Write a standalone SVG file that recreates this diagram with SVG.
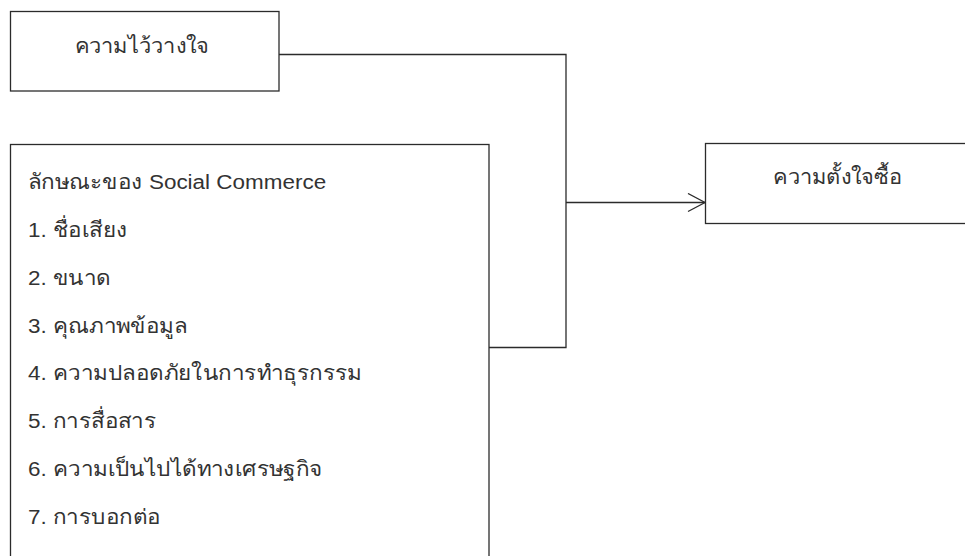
<svg xmlns="http://www.w3.org/2000/svg" width="965" height="556" viewBox="0 0 965 556">
  <style>
    .box { fill: #ffffff; stroke: #2b2b2b; stroke-width: 1.3; }
    .wire { fill: none; stroke: #2b2b2b; stroke-width: 1.3; }
    .lbl { font-family: "Liberation Sans", "Noto Sans", "DejaVu Sans", sans-serif; font-size: 21px; fill: #333333; }
  </style>
  <defs>
    <marker id="chevron" viewBox="0 0 20 20" refX="18" refY="10" markerWidth="20" markerHeight="20" markerUnits="userSpaceOnUse" orient="auto">
      <path d="M1,1 L18,10 L1,19" fill="none" stroke="#2b2b2b" stroke-width="1.3"/>
    </marker>
  </defs>
  <rect width="965" height="556" fill="#ffffff"/>

  <!-- connectors -->
  <g id="connectors">
    <polyline class="wire" points="279,54.5 566,54.5 566,347.5 489,347.5"/>
    <line class="wire" x1="566" y1="202.5" x2="705" y2="202.5" marker-end="url(#chevron)"/>
  </g>

  <!-- trust -->
  <g id="node-trust">
    <rect class="box" x="10.5" y="11.5" width="268.5" height="79.5"/>
    <g transform="translate(142,0) scale(1.04,1)">
      <text class="lbl" x="0" y="53" text-anchor="middle">ความไว้วางใจ</text>
    </g>
  </g>

  <!-- social commerce characteristics -->
  <g id="node-characteristics">
    <rect class="box" x="10.5" y="144.5" width="478.5" height="430"/>
    <g transform="translate(28,0) scale(1.07,1)">
      <text class="lbl" x="0" y="189">ลักษณะของ Social Commerce</text>
      <text class="lbl" x="0" y="237">1. ชื่อเสียง</text>
      <text class="lbl" x="0" y="285">2. ขนาด</text>
      <text class="lbl" x="0" y="333">3. คุณภาพข้อมูล</text>
      <text class="lbl" x="0" y="380">4. ความปลอดภัยในการทำธุรกรรม</text>
      <text class="lbl" x="0" y="428">5. การสื่อสาร</text>
      <text class="lbl" x="0" y="476">6. ความเป็นไปได้ทางเศรษฐกิจ</text>
      <text class="lbl" x="0" y="524">7. การบอกต่อ</text>
    </g>
  </g>

  <!-- purchase intention -->
  <g id="node-intention">
    <rect class="box" x="705.5" y="143.5" width="290" height="80"/>
    <g transform="translate(838,0) scale(1.04,1)">
      <text class="lbl" x="0" y="184" text-anchor="middle">ความตั้งใจซื้อ</text>
    </g>
  </g>
</svg>
